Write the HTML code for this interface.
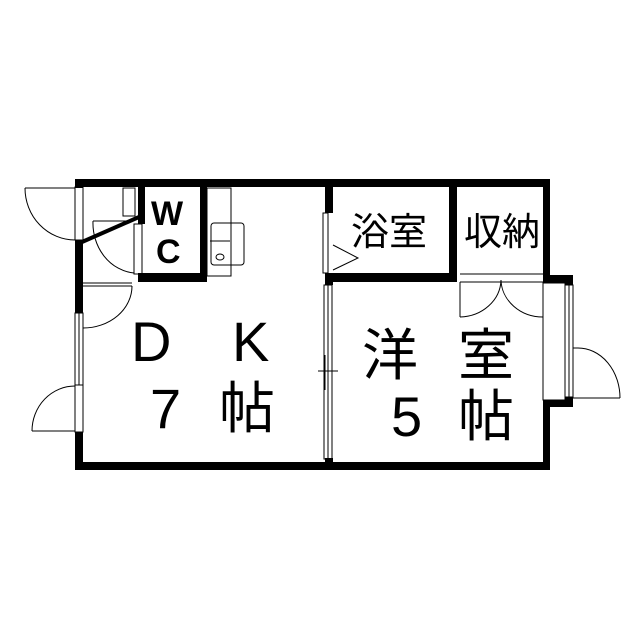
<!DOCTYPE html>
<html><head><meta charset="utf-8"><style>
html,body{margin:0;padding:0;background:#fff;}
svg{display:block}
text{font-family:"Liberation Sans","Noto Sans CJK JP",sans-serif;fill:#000}
</style></head><body>
<svg width="639" height="640" viewBox="0 0 639 640" xmlns="http://www.w3.org/2000/svg">
<g fill="#000">
<rect x="75" y="179" width="475" height="8"/>
<rect x="75" y="179" width="8" height="9"/>
<rect x="75" y="240" width="8" height="73"/>
<rect x="75" y="432" width="8" height="38"/>
<rect x="75" y="462" width="475" height="8"/>
<rect x="543" y="179" width="7" height="104"/>
<rect x="543" y="275" width="30" height="8"/>
<rect x="565" y="275" width="8" height="10"/>
<rect x="565" y="397" width="8" height="10"/>
<rect x="543" y="400" width="30" height="7"/>
<rect x="543" y="400" width="7" height="70"/>
<rect x="325" y="179" width="8" height="34"/>
<rect x="325" y="273" width="8" height="12"/>
<rect x="325" y="458" width="8" height="12"/>
<rect x="325" y="273" width="132" height="9"/>
<rect x="449" y="179" width="8" height="103"/>
<rect x="138" y="179" width="7" height="45"/>
<rect x="200" y="179" width="7" height="103"/>
<rect x="138" y="273" width="69" height="9"/>
</g>
<g fill="none" stroke="#000" stroke-width="1">
<line x1="82" y1="242" x2="139" y2="217" stroke-width="4"/>
<rect x="75" y="187" width="8" height="53"/>
<line x1="25" y1="188" x2="75" y2="188"/>
<path d="M25 188 A50 52 0 0 0 75 240"/>
<rect x="75" y="313" width="8" height="72"/><line x1="79" y1="313" x2="79" y2="385"/>
<rect x="75" y="385" width="8" height="47"/>
<line x1="32" y1="431" x2="75" y2="431"/>
<path d="M32 431 A43 45 0 0 1 75 386"/>
<line x1="83" y1="283" x2="132" y2="283"/>
<line x1="83" y1="286" x2="132" y2="286"/>
<path d="M132 286 A49 42 0 0 1 83 328"/>
<rect x="134" y="224" width="8" height="50"/>
<path d="M93 221 L130 221 M93 221 A45 50 0 0 0 134 273"/>
<rect x="123" y="188" width="12" height="28"/>
<rect x="207" y="188" width="24" height="88"/>
<rect x="211" y="223" width="33" height="42" rx="3"/>
<ellipse cx="220" cy="257" rx="4" ry="3"/>
<line x1="210" y1="241" x2="230" y2="241"/>
<rect x="323" y="213" width="5" height="60"/>
<path d="M333 245 L358 258 L333 270"/>
<rect x="324" y="285" width="8" height="174"/><line x1="328" y1="285" x2="328" y2="459"/>
<line x1="318" y1="371" x2="338" y2="371"/><line x1="325" y1="355" x2="325" y2="390"/>
<line x1="460" y1="274" x2="543" y2="274"/><line x1="460" y1="282" x2="543" y2="282"/>
<line x1="460" y1="282" x2="460" y2="317"/><line x1="543" y1="282" x2="543" y2="317"/>
<path d="M460 317 A42 38 0 0 0 501 280"/>
<path d="M543 317 A42 38 0 0 1 501 280"/>
<rect x="565" y="285" width="8" height="112"/><line x1="569" y1="285" x2="569" y2="397"/>
<line x1="573" y1="348" x2="578" y2="348"/>
<line x1="573" y1="398" x2="620" y2="398"/>
<path d="M578 348 A42 50 0 0 1 620 398"/>
<rect x="543" y="283" width="22" height="117"/>
</g>
<g>
<text x="151" y="225" font-weight="bold" font-size="34">W</text>
<text x="156" y="263" font-weight="bold" font-size="34">C</text>
<text x="351" y="245" font-size="38">浴室</text>
<text x="464" y="245" font-size="38">収納</text>
</g>
<g font-size="56">
<text x="131" y="361">D</text>
<text x="232" y="361">K</text>
<text x="150" y="428">7</text>
<text x="219" y="428">帖</text>
<text x="362" y="375">洋</text>
<text x="458" y="375">室</text>
<text x="391" y="436">5</text>
<text x="458" y="436">帖</text>
</g>
</svg>
</body></html>
